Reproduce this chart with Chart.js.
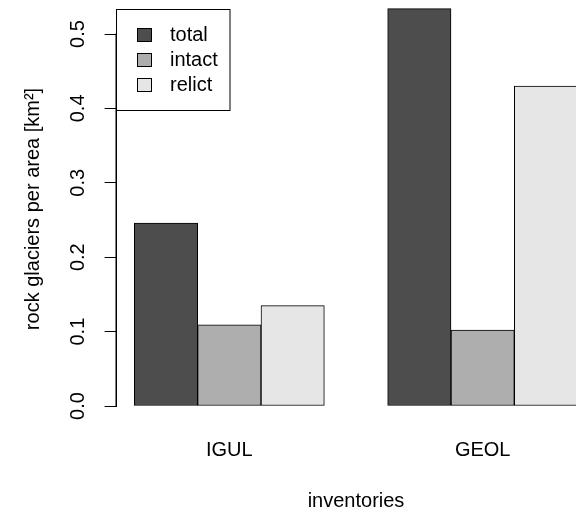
<!DOCTYPE html>
<html>
<head>
<meta charset="utf-8">
<script src="https://cdn.jsdelivr.net/npm/chart.js@4/dist/chart.umd.min.js"></script>
<style>
  html, body { margin: 0; padding: 0; background: #fff; overflow: hidden; }
  canvas { display: block; }
</style>
</head>
<body>
<canvas id="chart" width="620" height="511"></canvas>
<script>
// date
var groups = ["IGUL", "GEOL"];
var seriesNames = ["total", "intact", "relict"];
var total = [0.246, 0.534];
var intact = [0.109, 0.102];
var relict = [0.135, 0.430];
var yTicks = [0.0, 0.1, 0.2, 0.3, 0.4, 0.5];
var colors = ["#4D4D4D", "#AEAEAE", "#E6E6E6"];
var yTitle = "rock glaciers per area [km²]";

var FONT = "'Liberation Sans', Arial, Helvetica, sans-serif";
var values = [total, intact, relict];

// ca la barplot(beside=TRUE) din R: un spatiu, apoi 3 bare lipite
var datasets = seriesNames.map(function (name, s) {
  return {
    label: name,
    data: groups.map(function (g, i) {
      return { x: i * 4 + 1.5 + s, y: values[s][i] };
    }),
    backgroundColor: colors[s],
    borderColor: "#000",
    borderWidth: 1,
    borderSkipped: false,
    grouped: false,
    clip: false,
    barThickness: 63.33
  };
});

// titlul axei y, linia axei y si legenda cu chenar
var extras = {
  id: "extras",
  afterDraw: function (chart) {
    var ctx = chart.ctx;
    var sc = chart.scales.y;
    ctx.save();
    ctx.font = "20px " + FONT;
    ctx.fillStyle = "#000";
    ctx.textAlign = "center";
    ctx.textBaseline = "middle";
    ctx.translate(33, 209);
    ctx.rotate(-Math.PI / 2);
    ctx.fillText(yTitle, 0, 0);
    ctx.restore();

    ctx.save();
    ctx.fillStyle = "#000";
    var top = sc.getPixelForValue(yTicks[yTicks.length - 1]);
    var bottom = sc.getPixelForValue(yTicks[0]);
    ctx.fillRect(115.5, top - 0.5, 1.5, bottom - top + 1);
    ctx.restore();

    ctx.save();
    ctx.strokeStyle = "#000";
    ctx.lineWidth = 1;
    ctx.fillStyle = "#fff";
    ctx.fillRect(116.5, 9.5, 113.5, 101);
    ctx.strokeRect(116.5, 9.5, 113.5, 101);
    ctx.font = "20px " + FONT;
    ctx.textBaseline = "middle";
    chart.data.datasets.forEach(function (ds, i) {
      var y = 35 + i * 25;
      ctx.fillStyle = ds.backgroundColor;
      ctx.fillRect(137.5, y - 6.5, 14, 13);
      ctx.strokeRect(137.5, y - 6.5, 14, 13);
      ctx.fillStyle = "#000";
      ctx.fillText(ds.label, 170, y);
    });
    ctx.restore();
  }
};

new Chart(document.getElementById("chart"), {
  type: "bar",
  data: { datasets: datasets },
  options: {
    responsive: false,
    animation: false,
    devicePixelRatio: 1,
    layout: { padding: { left: 0, right: 24.6, top: 34, bottom: 0 } },
    plugins: {
      legend: { display: false },
      tooltip: { enabled: false }
    },
    scales: {
      x: {
        type: "linear",
        offset: false,
        min: 0.72,
        max: 8.28,
        afterBuildTicks: function (s) {
          s.ticks = groups.map(function (g, i) { return { value: i * 4 + 2.5 }; });
        },
        afterFit: function (s) {
          s.height = 105;
          s.paddingLeft = 0;
          s.paddingRight = 0;
        },
        ticks: {
          callback: function (v, i) { return groups[i]; },
          autoSkip: false,
          maxRotation: 0,
          padding: 32,
          color: "#000",
          font: { family: FONT, size: 20 }
        },
        grid: { display: false, drawTicks: false },
        border: { display: false },
        title: {
          display: true,
          text: "inventories",
          color: "#000",
          font: { family: FONT, size: 20 },
          padding: { top: 0, bottom: -2 }
        }
      },
      y: {
        min: 0,
        max: 0.5,
        afterBuildTicks: function (s) {
          s.ticks = yTicks.map(function (v) { return { value: v }; });
        },
        afterFit: function (s) {
          s.width = 116.6;
          s.paddingTop = 0;
          s.paddingBottom = 0;
        },
        ticks: {
          callback: function (v) { return v.toFixed(1); },
          minRotation: 90,
          maxRotation: 90,
          crossAlign: "center",
          padding: 12.7,
          color: "#000",
          font: { family: FONT, size: 20 }
        },
        grid: {
          drawOnChartArea: false,
          drawTicks: true,
          tickLength: 12,
          color: "#000",
          lineWidth: 1
        },
        border: { display: true, color: "#000", width: 1 },
        title: { display: false }
      }
    }
  },
  plugins: [extras]
});
</script>
</body>
</html>
